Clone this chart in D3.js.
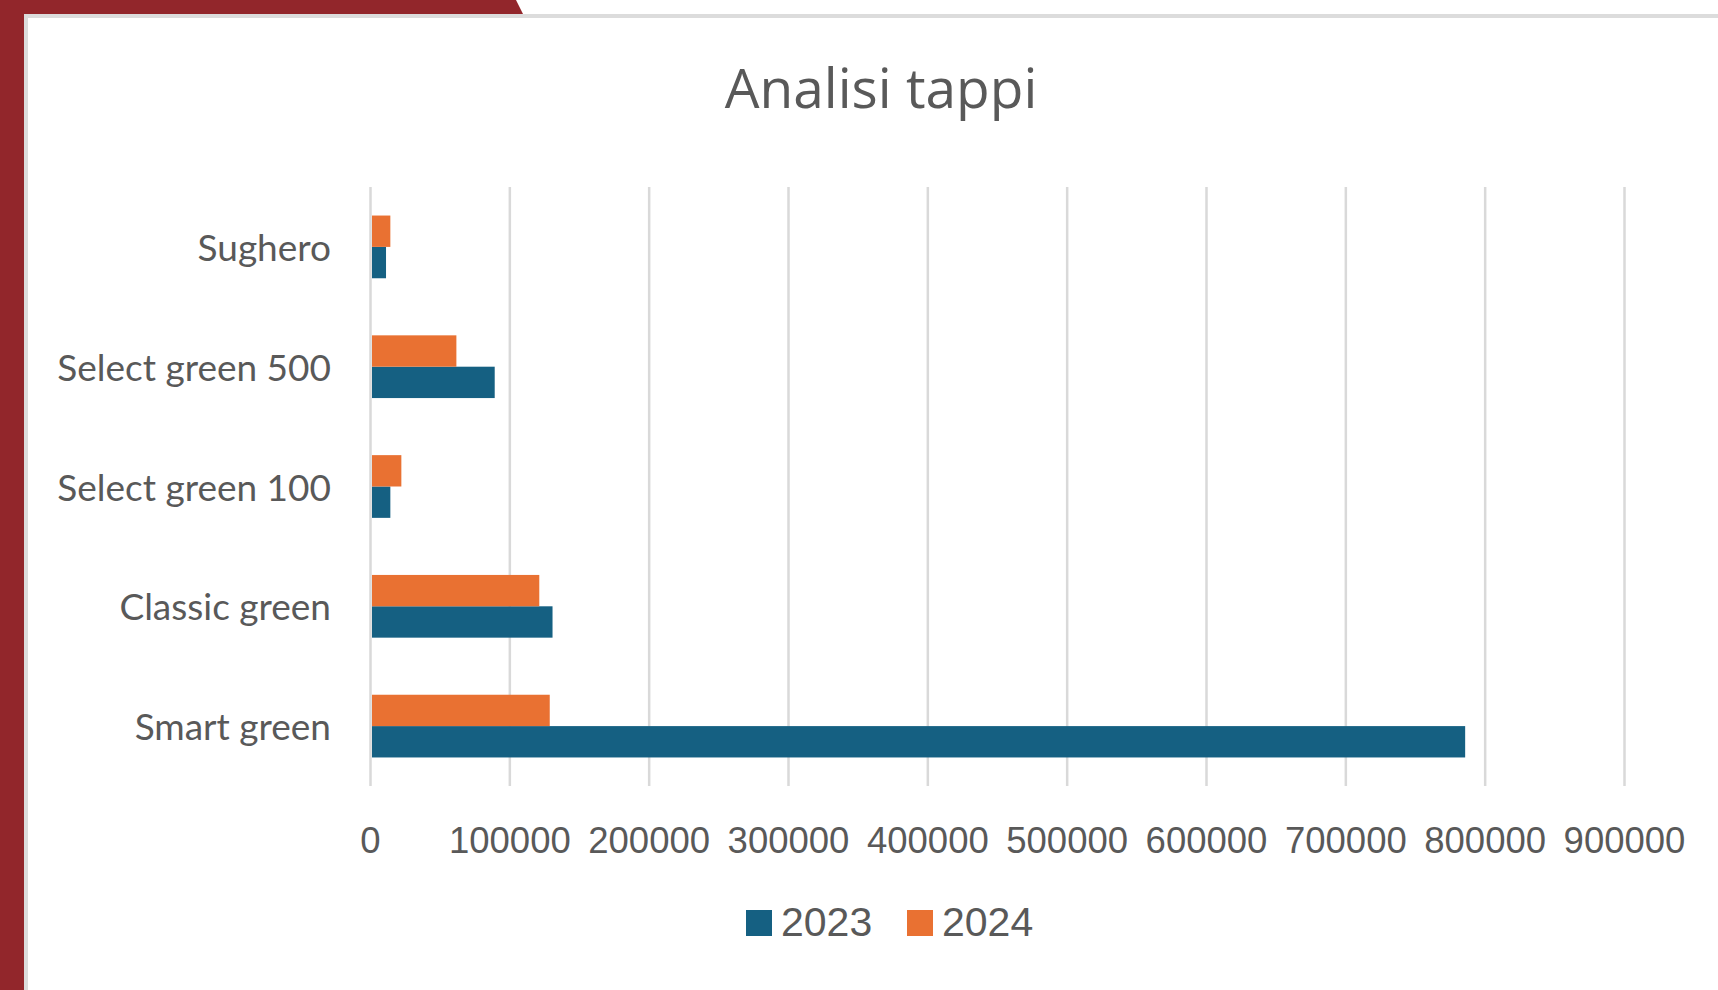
<!DOCTYPE html>
<html>
 <head>
   <meta charset="utf-8">
   <title>Analisi tappi</title>
   <script src="https://cdn.jsdelivr.net/npm/d3@7/dist/d3.min.js"></script>
   <style>
     html, body { margin: 0; padding: 0; background: #ffffff; overflow: hidden; }
   </style>
 </head>
 <body>
  <script>
    // data
    var categories = ["Smart green", "Classic green", "Select green 100", "Select green 500", "Sughero"];
    var seriesNames = ["2023", "2024"];
    var values2023 = [786000, 131000, 14600, 89500, 11500];
    var values2024 = [129000, 121500, 22500, 62000, 14600];
    var xTicks = [0, 100000, 200000, 300000, 400000, 500000, 600000, 700000, 800000, 900000];
    var colors = ["#156082", "#e97132"];

    var width = 1718, height = 990;
    var plotLeft = 370, plotRight = 1624, plotTop = 187, plotBottom = 786;
    var textGray = "#595959", gridGray = "#d9d9d9";

    var svg = d3.select("body").append("svg")
                .attr("width", width)
                .attr("height", height);

    // frame: red band + card
    svg.append("rect").attr("x", 0).attr("y", 0).attr("width", 24).attr("height", height).attr("fill", "#92262b");
    svg.append("polygon").attr("points", "0,0 516,0 523,14 0,14").attr("fill", "#92262b");
    svg.append("rect").attr("x", 24).attr("y", 14).attr("width", width).attr("height", height).attr("fill", "#dcdcdc");
    svg.append("rect").attr("x", 28).attr("y", 18).attr("width", width).attr("height", height).attr("fill", "#ffffff");

    // title
    svg.append("text")
       .attr("x", 881).attr("y", 108)
       .attr("text-anchor", "middle")
       .attr("font-family", "'Open Sans', sans-serif")
       .attr("font-size", 55)
       .attr("fill", textGray)
       .text("Analisi tappi");

    var x = d3.scaleLinear().domain([0, 900000]).range([plotLeft, plotRight]);
    // Sughero on top, Smart green at the bottom
    var y = d3.scaleBand().domain(categories.slice().reverse()).range([plotTop, plotBottom]);
    var barH = y.bandwidth() / 3.82;

    // gridlines + tick labels
    var xAxis = svg.append("g")
       .attr("transform", "translate(0," + plotBottom + ")")
       .call(d3.axisBottom(x).tickValues(xTicks).tickFormat(d3.format("d"))
               .tickSizeInner(-(plotBottom - plotTop)).tickSizeOuter(0));
    xAxis.select(".domain").remove();
    xAxis.selectAll("line").attr("stroke", gridGray).attr("stroke-width", 2.5);
    xAxis.selectAll("text")
         .attr("y", 67).attr("dy", 0)
         .attr("font-family", "'Liberation Sans', Arial, sans-serif")
         .attr("font-size", 36.5)
         .attr("fill", textGray);

    // bars
    var rows = categories.map(function(c, i) {
      return { cat: c, vals: [values2023[i], values2024[i]] };
    });
    var groups = svg.append("g").selectAll("g")
       .data(rows).enter().append("g");
    groups.selectAll("rect")
       .data(function(d) { return d.vals.map(function(v, s) { return { cat: d.cat, v: v, s: s }; }); })
       .enter().append("rect")
       .attr("x", x(0) + 2)
       .attr("y", function(d) {
          var mid = y(d.cat) + y.bandwidth() / 2;
          return d.s == 0 ? mid : mid - barH;   // 2023 below, 2024 above
       })
       .attr("width", function(d) { return x(d.v) - x(0) - 2; })
       .attr("height", barH)
       .attr("fill", function(d) { return colors[d.s]; });

    // category labels
    var yAxis = svg.append("g")
       .attr("transform", "translate(" + plotLeft + ",0)")
       .call(d3.axisLeft(y).tickSize(0).tickPadding(39));
    yAxis.select(".domain").remove();
    yAxis.selectAll("text")
         .attr("dy", "0.38em")
         .attr("font-family", "Lato, sans-serif")
         .attr("font-size", 37)
         .attr("fill", textGray);

    // legend
    var legendX = [746, 907];
    var legend = svg.append("g").selectAll("g")
       .data(seriesNames).enter().append("g")
       .attr("transform", function(d, i) { return "translate(" + legendX[i] + ",910)"; });
    legend.append("rect")
       .attr("width", 26).attr("height", 26)
       .attr("fill", function(d, i) { return colors[i]; });
    legend.append("text")
       .attr("x", 35).attr("y", 26)
       .attr("font-family", "'Liberation Sans', Arial, sans-serif")
       .attr("font-size", 41)
       .attr("fill", textGray)
       .text(function(d) { return d; });
  </script>
 </body>
</html>
